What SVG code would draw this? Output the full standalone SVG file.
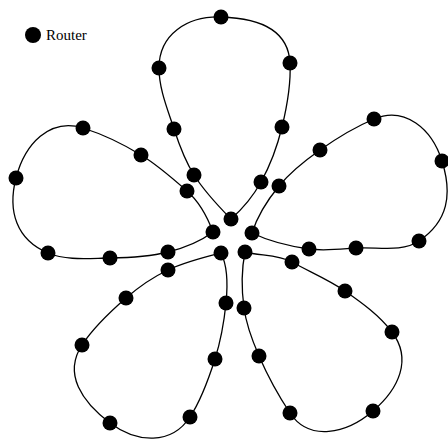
<svg xmlns="http://www.w3.org/2000/svg" width="448" height="440" viewBox="0 0 448 440">
<style>
.link{fill:none;stroke:#000;stroke-width:1.3}
.router{fill:#000}
.label{font-family:"Liberation Serif","Times New Roman",serif;font-size:15px;fill:#000}
</style>
<rect width="448" height="440" fill="#fff"/>
<g id="connectors">
<path class="link" d="M231,219 C217.6,205.4 204.3,191.2 194,175 C185.1,160.9 179.2,144.9 174,129 C167.5,109.1 159,88.9 159,68 C159,34.3 187.3,16 221,17 C255.8,18 288.3,28.2 290,63 C291.1,84.5 287.1,106.1 282,127 C277.4,146 270.5,164.8 261,182 C253.3,195.9 242.9,208.5 231,219"/>
<path class="link" d="M252,233 C257.4,215.7 267.5,200 279,186 C290.5,171.9 305.1,160.5 320,150 C337,138 354.9,127.1 374,119 C404.9,105.9 431.9,128.9 442,161 C452.5,194.4 448.1,221.4 419,241 C401.5,252.8 377,246.5 356,248 C340.3,249.1 324.5,251.2 309,249 C289.5,246.2 269.7,241.5 252,233"/>
<path class="link" d="M245,252 C260.5,256 278.1,254.2 292,262 C309.5,271.8 328.5,279.5 345,291 C362,302.9 379.5,315.4 392,332 C412.5,359.3 398.9,388.8 373,411 C346.5,433.7 309.2,442 290,413 C278.1,395.1 267.6,375.8 259,356 C252.3,340.6 246.2,324.6 244,308 C241.5,289.5 241.3,270.3 245,252"/>
<path class="link" d="M221,253 C228.5,267.9 227.7,286.4 226,303 C224.1,321.9 220.7,340.9 215,359 C208.6,379.1 201.6,399.4 190,417 C171.5,445.1 137,443.2 110,423 C82.2,402.1 62.9,374.1 82,345 C93.8,327 109.8,312.1 126,298 C138.7,287 152.8,277.2 168,270 C184.8,262 203,257.5 221,253"/>
<path class="link" d="M213,232 C207.3,216.8 199.2,201.7 187,191 C172.4,178.1 157.7,165.1 141,155 C122.8,143.9 103.2,134.4 83,128 C49.7,117.5 24.8,144 16,178 C7.4,211.2 16.5,240 48,253 C67,260.9 89.3,258.2 110,258 C129.4,257.8 149.2,256.8 168,252 C183.9,248 199.9,241.8 213,232"/>
</g>
<g id="legend"><circle class="router" cx="33" cy="35" r="8"/><text class="label" x="46" y="40">Router</text></g>
<g id="c1"><circle class="router" cx="231" cy="219" r="7.5"/></g>
<g id="c2"><circle class="router" cx="213" cy="232" r="7.5"/></g>
<g id="c3"><circle class="router" cx="252" cy="233" r="7.5"/></g>
<g id="c4"><circle class="router" cx="221" cy="253" r="7.5"/></g>
<g id="c5"><circle class="router" cx="245" cy="252" r="7.5"/></g>
<g id="t1"><circle class="router" cx="194" cy="175" r="7.5"/></g>
<g id="t2"><circle class="router" cx="174" cy="129" r="7.5"/></g>
<g id="t3"><circle class="router" cx="159" cy="68" r="7.5"/></g>
<g id="t4"><circle class="router" cx="221" cy="17" r="7.5"/></g>
<g id="t5"><circle class="router" cx="290" cy="63" r="7.5"/></g>
<g id="t6"><circle class="router" cx="282" cy="127" r="7.5"/></g>
<g id="t7"><circle class="router" cx="261" cy="182" r="7.5"/></g>
<g id="r1"><circle class="router" cx="279" cy="186" r="7.5"/></g>
<g id="r2"><circle class="router" cx="320" cy="150" r="7.5"/></g>
<g id="r3"><circle class="router" cx="374" cy="119" r="7.5"/></g>
<g id="r4"><circle class="router" cx="442" cy="161" r="7.5"/></g>
<g id="r5"><circle class="router" cx="419" cy="241" r="7.5"/></g>
<g id="r6"><circle class="router" cx="356" cy="248" r="7.5"/></g>
<g id="r7"><circle class="router" cx="309" cy="249" r="7.5"/></g>
<g id="br1"><circle class="router" cx="292" cy="262" r="7.5"/></g>
<g id="br2"><circle class="router" cx="345" cy="291" r="7.5"/></g>
<g id="br3"><circle class="router" cx="392" cy="332" r="7.5"/></g>
<g id="br4"><circle class="router" cx="373" cy="411" r="7.5"/></g>
<g id="br5"><circle class="router" cx="290" cy="413" r="7.5"/></g>
<g id="br6"><circle class="router" cx="259" cy="356" r="7.5"/></g>
<g id="br7"><circle class="router" cx="244" cy="308" r="7.5"/></g>
<g id="bl1"><circle class="router" cx="226" cy="303" r="7.5"/></g>
<g id="bl2"><circle class="router" cx="215" cy="359" r="7.5"/></g>
<g id="bl3"><circle class="router" cx="190" cy="417" r="7.5"/></g>
<g id="bl4"><circle class="router" cx="110" cy="423" r="7.5"/></g>
<g id="bl5"><circle class="router" cx="82" cy="345" r="7.5"/></g>
<g id="bl6"><circle class="router" cx="126" cy="298" r="7.5"/></g>
<g id="bl7"><circle class="router" cx="168" cy="270" r="7.5"/></g>
<g id="l1"><circle class="router" cx="187" cy="191" r="7.5"/></g>
<g id="l2"><circle class="router" cx="141" cy="155" r="7.5"/></g>
<g id="l3"><circle class="router" cx="83" cy="128" r="7.5"/></g>
<g id="l4"><circle class="router" cx="16" cy="178" r="7.5"/></g>
<g id="l5"><circle class="router" cx="48" cy="253" r="7.5"/></g>
<g id="l6"><circle class="router" cx="110" cy="258" r="7.5"/></g>
<g id="l7"><circle class="router" cx="168" cy="252" r="7.5"/></g>
</svg>
